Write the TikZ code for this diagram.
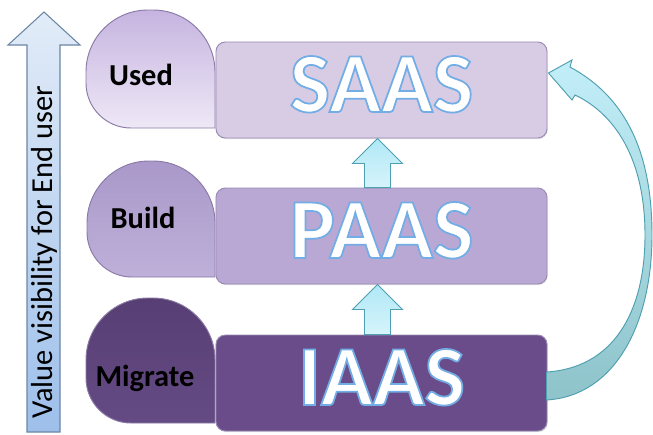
\documentclass[tikz,border=0pt]{standalone}
\usepackage{fontspec}
\setmainfont{Carlito}
\usepackage{xcolor}
\definecolor{tierline}{HTML}{9A8BB2}
\definecolor{leafline}{HTML}{8A7AA6}
\definecolor{usedtop}{HTML}{C6B4E0}
\definecolor{usedbot}{HTML}{EEE8F6}
\definecolor{buildtop}{HTML}{A998C9}
\definecolor{buildbot}{HTML}{BEB0D9}
\definecolor{migtop}{HTML}{573E73}
\definecolor{migbot}{HTML}{654B84}
\definecolor{saasfill}{HTML}{D8CCE5}
\definecolor{paasfill}{HTML}{BAA8D4}
\definecolor{iaasfill}{HTML}{694C89}
\definecolor{visline}{HTML}{6C86A6}
\definecolor{vistop}{HTML}{E2ECF8}
\definecolor{visbot}{HTML}{9DBFEA}
\definecolor{tealline}{HTML}{4E9FAF}
\definecolor{cyantop}{HTML}{B0E8F6}
\definecolor{cyanbot}{HTML}{D6F4FB}
\definecolor{bendtop}{HTML}{C2EEF8}
\definecolor{bendbot}{HTML}{8EC3CA}
\usepackage{tikz}
\usetikzlibrary{calc,shadows}
% white letters with a blue rim (stroke + fill text mode)
\newcommand{\glowtext}[1]{\special{pdf:literal direct 2 Tr 1.5 w 0.45 0.68 0.90 RG}#1\special{pdf:literal direct 0 Tr}}

\begin{document}
\begin{tikzpicture}[
    x=0.03cm,y=0.03cm,
    tier/.style={draw=tierline, line width=0.8pt, rounded corners=8pt, inner sep=0pt,
        minimum width=9.93cm, minimum height=2.88cm, text depth=0.36cm,
        font=\fontsize{73}{73}\selectfont\bfseries, text=white,
        drop shadow={opacity=0.25, shadow xshift=0.6pt, shadow yshift=-0.9pt}},
    leaf/.style={draw=leafline, line width=0.8pt},
    leaflabel/.style={font=\fontsize{26}{26}\selectfont\bfseries, text=black},
    vislabel/.style={font=\fontsize{26}{26}\selectfont, text=black},
    uparr/.style={draw=tealline, line width=0.8pt, top color=cyantop, bottom color=cyanbot},
    bendarr/.style={draw=tealline, line width=0.8pt, top color=bendtop, bottom color=bendbot}
]
    \useasboundingbox (0,0) rectangle (653,434);

    % value arrow on the left
    \draw[draw=visline, line width=0.9pt, top color=vistop, bottom color=visbot]
        (27,2) -- (27,389) -- (8,389) -- (44,422) -- (80,389) -- (60,389) -- (60,2) -- cycle;
    \node[vislabel, rotate=90] (vis) at (44,182) {Value visibility for End user};

    % leaves
    \draw[leaf, top color=usedtop, bottom color=usedbot] (215,306) -- ++(-84,0)
        arc[start angle=270, end angle=180, radius=45] -- ++(0,11)
        arc[start angle=180, end angle=90, radius=62] -- ++(5,0)
        arc[start angle=90, end angle=0, radius=62] -- cycle;
    \draw[leaf, top color=buildtop, bottom color=buildbot] (215,157) -- ++(-83,0)
        arc[start angle=270, end angle=180, radius=45] -- ++(0,9)
        arc[start angle=180, end angle=90, radius=62] -- ++(4,0)
        arc[start angle=90, end angle=0, radius=62] -- cycle;
    \draw[leaf, top color=migtop, bottom color=migbot] (215,11) -- ++(-84,0)
        arc[start angle=270, end angle=180, radius=45] -- ++(0,18)
        arc[start angle=180, end angle=90, radius=62] -- ++(5,0)
        arc[start angle=90, end angle=0, radius=62] -- cycle;
    \node[leaflabel] (used) at (141,359) {Used};
    \node[leaflabel] (build) at (143,216) {Build};
    \node[leaflabel] (migrate) at (145,56) {Migrate};

    % tiers
    \node[tier, fill=saasfill] (saas) at (381.5,344) {\glowtext{SAAS}};
    \node[tier, fill=paasfill] (paas) at (381.5,198) {\glowtext{PAAS}};
    \node[tier, fill=iaasfill] (iaas) at (381.5,51) {\glowtext{IAAS}};

    % small up arrows
    \draw[uparr] ($(paas.north)+(-17,0)$) -- ($(saas.south)+(-17,-25)$) -- ++(-12,0)
        -- ($(saas.south)+(-4,0)$) -- ++(25,-25) -- ++(-12,0) -- ($(paas.north)+(9,0)$) -- cycle;
    \draw[uparr] ($(iaas.north)+(-17,0)$) -- ($(paas.south)+(-17,-25)$) -- ++(-12,0)
        -- ($(paas.south)+(-4,0)$) -- ++(25,-25) -- ++(-12,0) -- ($(iaas.north)+(9,0)$) -- cycle;

    % curved arrow IAAS -> SAAS
    \draw[bendarr] ($(iaas.east)+(-1,-17)$) .. controls (615,38) and (652,110) .. (652,199)
        .. controls (652,290) and (620,340) .. (570,367) -- (572,374)
        -- ($(saas.east)+(1,17)$) -- (572,334) -- (575,339)
        .. controls (615,320) and (645,275) .. (645,199)
        .. controls (645,120) and (612,66) .. ($(iaas.east)+(-1,11)$) -- cycle;
\end{tikzpicture}
\end{document}
